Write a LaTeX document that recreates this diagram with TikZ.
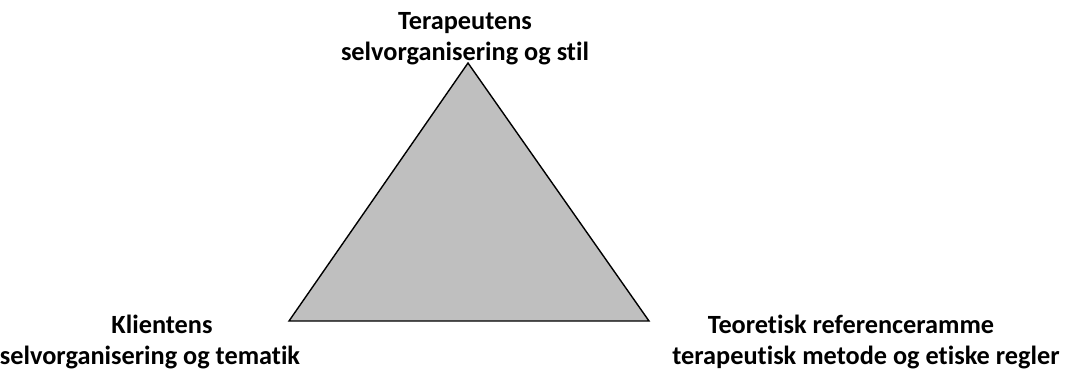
\documentclass[tikz,border=0pt]{standalone}
\usepackage{fontspec}
\setmainfont{Carlito}[Ligatures=NoCommon]
\usepackage{tikz}
\tikzstyle{label} = [text centered, align=center, font=\fontsize{26.3}{31}\selectfont\bfseries, inner sep=0pt]
\tikzstyle{tri} = [draw=black, line width=1.4pt, fill=lightgray, line join=miter]

\begin{document}
\begin{tikzpicture}[x=1pt, y=-1pt]
        \useasboundingbox (0,0) rectangle (1074,372);

        % Corners
        \coordinate (top) at (468,63);
        \coordinate (left) at (289,321);
        \coordinate (right) at (649,321);

        % Triangle
        \draw [tri] (top) -- (left) -- (right) -- cycle;

        % Labels
        \node (therapist) [label] at (465,39) {Terapeutens\\selvorganisering og stil};
        \node (client) [label] at (150,342) {\hspace*{24pt}Klientens\\selvorganisering og tematik};
        \node (theory) [label] at (866,342) {Teoretisk referenceramme\hspace*{30pt}\\terapeutisk metode og etiske regler};

    \end{tikzpicture}
\end{document}
